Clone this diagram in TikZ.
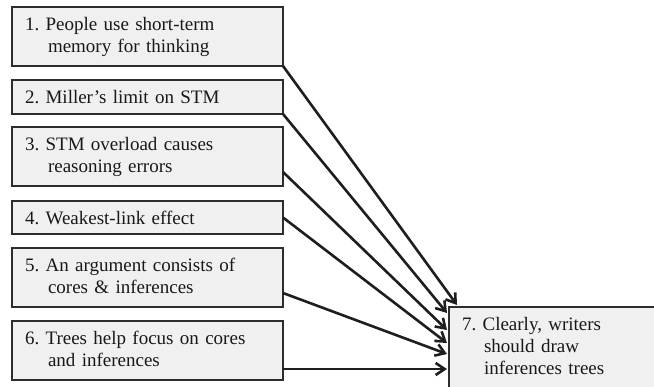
\documentclass[tikz,border=0pt]{standalone}
\usepackage{fontspec}
\setmainfont{Liberation Serif}
\usetikzlibrary{arrows.meta}
\definecolor{boxfill}{RGB}{240,240,240}
\definecolor{boxline}{RGB}{45,45,45}
\definecolor{linkline}{RGB}{30,30,30}
\definecolor{ink}{RGB}{25,25,25}
\frenchspacing
\begin{document}
\begin{tikzpicture}[x=1pt,y=-1pt,
  claim/.style={draw=boxline, line width=1.9pt, fill=boxfill, anchor=north west,
    outer sep=0pt, inner xsep=13pt, inner ysep=0pt, text width=245pt, align=left,
    text=ink, font=\fontsize{19}{22}\selectfont, text height=23.5pt},
  link/.style={draw=linkline, line width=2.6pt,
    -{Straight Barb[length=9pt,width=12pt,line width=2.6pt]}}]
  \path[use as bounding box, clip] (0,0) rectangle (654,386);
  \fill[white] (0,0) rectangle (654,386);

  % premises
  \node[claim, text depth=35.5pt] (b1) at (12,7)   {1. People use short-term\\\hspace*{23pt}memory for thinking};
  \node[claim, text depth=10.5pt] (b2) at (12,80)  {2. Miller’s limit on STM};
  \node[claim, text depth=35.5pt] (b3) at (12,127) {3. STM overload causes\\\hspace*{23pt}reasoning errors};
  \node[claim, text depth=9.5pt]  (b4) at (12,201) {4. Weakest-link effect};
  \node[claim, text depth=35.5pt] (b5) at (12,248) {5. An argument consists of\\\hspace*{23pt}cores \& inferences};
  \node[claim, text depth=35.5pt] (b6) at (12,321) {6. Trees help focus on cores\\\hspace*{23pt}and inferences};

  % conclusion
  \node[claim, text width=260pt, text depth=80pt] (b7) at (449,307)
    {7. Clearly, writers\\\hspace*{22pt}should draw\\\hspace*{22pt}inferences trees};

  % arrow end points on the conclusion box
  \coordinate (t1) at ([shift={(8,-2)}]b7.north west);
  \coordinate (t2) at ([shift={(-2,6)}]b7.north west);
  \coordinate (t3) at ([shift={(-2,23)}]b7.north west);
  \coordinate (t4) at ([shift={(-2,36)}]b7.north west);
  \coordinate (t5) at ([shift={(-2,47)}]b7.north west);
  \coordinate (t6) at ([shift={(-2,62)}]b7.north west);

  \draw[link] (b1.south east) -- (t1);
  \draw[link] (b2.south east) -- (t2);
  \draw[link] ([shift={(0,-14)}]b3.south east) -- (t3);
  \draw[link] (b4.east) -- (t4);
  \draw[link] ([shift={(0,-14)}]b5.south east) -- (t5);
  \draw[link] ([shift={(0,-11)}]b6.south east) -- (t6);
\end{tikzpicture}
\end{document}
